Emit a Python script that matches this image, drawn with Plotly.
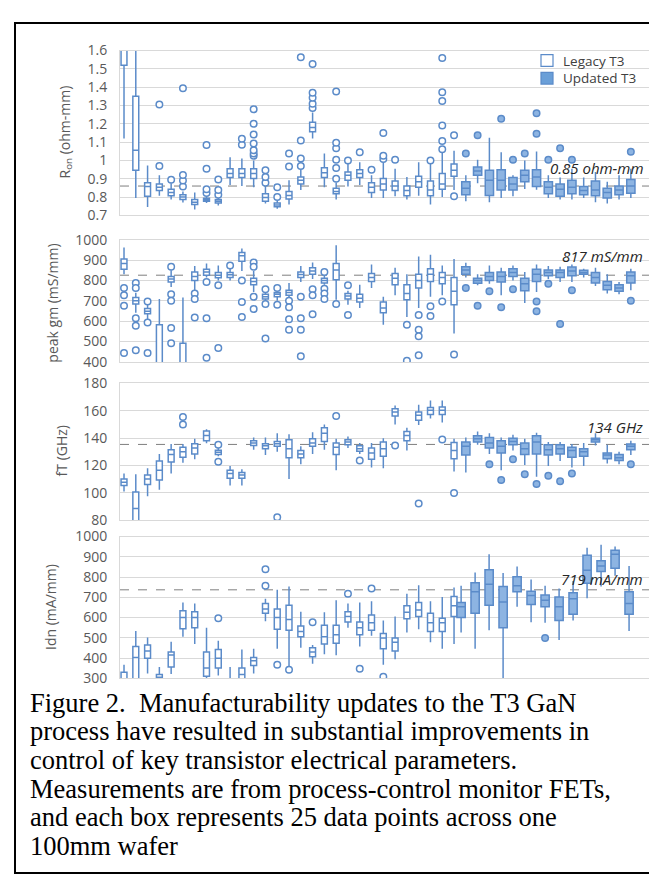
import numpy as np
import plotly.graph_objects as go

W, H = 657, 877
LINE = '#5B8BC9'
FILL = '#8DB4E2'
GRID = '#D9D9D9'
TICK = '#595959'

# ---------------- data (wafer index 1..29 legacy, 30.. updated) ----------------
n_legacy = 29

# Ron (ohm-mm)
ron_q1 = [1.52, 0.946, 0.804, 0.836, 0.807, 0.786, 0.759, 0.777, 0.768, 0.907, 0.907, 0.901, 0.777, 0.747, 0.789,
          0.871, 1.156, 0.907, 0.818, 0.892, 0.907, 0.825, 0.839, 0.836, 0.807, 0.853, 0.807, 0.843, 0.914,
          0.812, 0.919, 0.809, 0.839, 0.839, 0.884, 0.857, 0.818, 0.804, 0.818, 0.812, 0.807, 0.795, 0.812, 0.821]
ron_med = [1.75, 1.056, 0.857, 0.853, 0.825, 0.800, 0.772, 0.785, 0.777, 0.928, 0.928, 0.928, 0.798, 0.757, 0.809,
           0.892, 1.180, 0.932, 0.830, 0.919, 0.928, 0.853, 0.871, 0.860, 0.836, 0.884, 0.839, 0.871, 0.946,
           0.848, 0.942, 0.892, 0.892, 0.871, 0.919, 0.910, 0.853, 0.843, 0.853, 0.836, 0.839, 0.825, 0.839, 0.860]
ron_q3 = [1.90, 1.351, 0.878, 0.871, 0.843, 0.812, 0.786, 0.793, 0.786, 0.955, 0.955, 0.955, 0.818, 0.768, 0.830,
          0.910, 1.209, 0.960, 0.848, 0.937, 0.949, 0.878, 0.901, 0.887, 0.860, 0.914, 0.887, 0.928, 0.981,
          0.884, 0.964, 0.946, 0.949, 0.907, 0.946, 0.949, 0.884, 0.871, 0.892, 0.857, 0.887, 0.848, 0.860, 0.896]
ron_lo = [1.12, 0.795, 0.745, 0.807, 0.786, 0.770, 0.732, 0.768, 0.754, 0.866, 0.860, 0.853, 0.764, 0.736, 0.759,
          0.839, 1.120, 0.853, 0.786, 0.857, 0.866, 0.795, 0.795, 0.804, 0.786, 0.807, 0.759, 0.800, 0.839,
          0.777, 0.875, 0.771, 0.795, 0.804, 0.844, 0.840, 0.795, 0.786, 0.786, 0.795, 0.771, 0.764, 0.786, 0.795]
ron_hi = [2.10, 1.75, 0.972, 0.919, 0.875, 0.830, 0.825, 0.804, 0.795, 1.017, 1.010, 1.000, 0.860, 0.780, 0.892,
          0.950, 1.262, 1.038, 0.880, 0.980, 0.990, 0.919, 0.990, 0.955, 0.910, 0.990, 0.980, 1.040, 1.053,
          0.919, 1.003, 1.124, 1.044, 0.919, 0.999, 1.049, 0.919, 0.907, 0.955, 0.907, 0.937, 0.884, 0.919, 0.955]
ron_out_x = [4, 4, 5, 6, 6, 6, 6, 8, 8, 8, 8, 9, 9, 9, 11, 11,
             12, 12, 12, 12, 12, 12, 12, 13, 13, 13, 14, 14, 15, 15, 16, 16, 16, 16,
             17, 17, 17, 17, 17, 19, 19, 19, 19, 19, 19, 20, 21, 22, 23, 23, 23, 24, 27,
             28, 28, 28, 28, 28, 28, 29, 29,
             30, 31, 33, 34, 35, 36, 36, 37, 38, 39, 44]
ron_out_y = [0.969, 1.305, 0.895, 0.858, 0.890, 0.921, 1.394, 0.822, 0.843, 0.955, 1.084, 0.812, 0.839, 0.896, 1.086, 1.118,
             1.026, 1.038, 1.056, 1.092, 1.141, 1.200, 1.280, 0.878, 0.910, 0.946, 0.800, 0.853, 0.967, 1.038, 0.970, 1.010, 1.109, 1.563,
             1.287, 1.310, 1.342, 1.369, 1.527, 0.900, 0.958, 1.003, 1.067, 1.097, 1.376, 0.999, 1.044, 0.949, 1.008, 1.026, 1.150, 1.003, 1.000,
             1.061, 1.106, 1.191, 1.324, 1.372, 1.559, 0.804, 1.138,
             1.038, 1.138, 1.227, 1.004, 1.038, 1.145, 1.257, 1.004, 1.067, 1.004, 1.047]

# peak gm (mS/mm)
gm_q1 = [855, 684, 637, 330, 792, 330, 800, 826, 814, 815, 894, 779, 709, 720, 728, 815, 831, 788, 804, 709, 694,
         795, 642, 779, 705, 763, 795, 784, 681,
         831, 787, 800, 792, 820, 749, 795, 823, 815, 823, 831, 788, 755, 747, 788]
gm_med = [883, 700, 649, 380, 807, 380, 820, 842, 826, 828, 921, 795, 720, 732, 741, 829, 847, 800, 852, 724, 713,
          815, 665, 811, 736, 800, 831, 815, 747,
          852, 800, 820, 820, 839, 784, 831, 839, 839, 847, 839, 815, 776, 763, 823]
gm_q3 = [905, 716, 662, 583, 820, 492, 842, 855, 839, 839, 937, 811, 732, 741, 752, 842, 863, 811, 883, 736, 732,
         834, 694, 834, 779, 831, 858, 839, 815,
         868, 811, 839, 842, 858, 811, 855, 852, 852, 866, 850, 839, 795, 779, 842]
gm_lo = [831, 642, 610, 250, 768, 250, 752, 815, 800, 800, 847, 744, 697, 700, 709, 792, 807, 779, 705, 681, 665,
         763, 583, 728, 621, 665, 720, 728, 539,
         815, 776, 784, 728, 800, 689, 744, 807, 792, 792, 815, 773, 736, 732, 752]
gm_hi = [962, 740, 685, 709, 850, 716, 871, 883, 874, 858, 957, 847, 760, 750, 788, 871, 889, 825, 973, 750, 779,
         878, 720, 863, 831, 918, 926, 874, 905,
         887, 831, 874, 863, 874, 842, 878, 871, 867, 878, 858, 863, 831, 792, 858]
gm_out_x = [1, 1, 1, 1, 2, 2, 2, 2, 2, 3, 3, 3, 5, 5, 5, 5, 5, 7, 7, 7, 8, 8, 8, 9, 9, 10,
            11, 11, 11, 12, 12, 12, 12, 13, 13, 13, 14, 14, 15, 15, 15, 15, 16, 16, 16, 16,
            17, 17, 17, 18, 18, 18, 18, 19, 20, 20, 25, 25, 26, 26, 26, 26, 27, 27, 28, 29,
            30, 31, 32, 33, 34, 36, 36, 37, 38, 39, 44]
gm_out_y = [763, 728, 676, 444, 788, 763, 615, 578, 457, 697, 594, 444, 867, 732, 700, 567, 492, 736, 709, 618, 792, 615, 420, 776, 468, 874,
            800, 694, 621, 889, 867, 720, 660, 757, 684, 515, 763, 681, 700, 668, 610, 558, 720, 615, 558, 428,
            757, 728, 634, 842, 760, 736, 709, 684, 776, 631, 583, 405, 631, 558, 526, 432, 673, 626, 697, 436,
            763, 676, 747, 668, 757, 697, 649, 784, 586, 752, 700]

# fT (GHz)
ft_q1 = [105.3, 78, 106, 109.3, 122.4, 126, 128.4, 138, 127.9, 110.7, 110.7, 134.6, 132.2, 133.9, 125.6, 125.6, 133.9,
         137.5, 127.9, 135.1, 130.3, 124.4, 126.7, 156.1, 138, 153, 157.1, 157.1, 124.8,
         127.5, 137, 132.7, 129.1, 135.1, 127.9, 128.4, 127.5, 128.4, 126, 126.7, 137, 124.8, 123.6, 131.5]
ft_med = [107.6, 88.5, 110, 116.5, 127.9, 129.9, 132.7, 141.8, 129.6, 114.1, 112.9, 136.3, 134.4, 135.8, 132.2, 128.4, 136.3,
          143.5, 133.2, 137, 132.2, 129.1, 132.2, 159, 141.8, 156.6, 160.2, 160.2, 130.8,
          133.9, 139.4, 136.3, 133.9, 137.5, 132.2, 137, 131.5, 132.2, 130.8, 129.9, 138.7, 127.5, 125.6, 133.9]
ft_q3 = [110, 100.5, 112.9, 123.2, 131.5, 133.2, 135.8, 145.1, 131, 116.5, 114.8, 138, 135.8, 137.5, 138.7, 130.8, 139.4,
         147.5, 136.3, 138.7, 134.4, 132.7, 137, 161.4, 144.7, 159, 162.3, 162.6, 136.8,
         137, 141.6, 140.4, 138, 139.9, 136.3, 141.6, 135.1, 135.1, 133.2, 132.2, 139.9, 129.1, 127.9, 135.6]
ft_lo = [101, 70, 97.4, 102.2, 114.1, 122, 124.4, 136.1, 126.7, 105.3, 105.3, 131.5, 127.5, 129.9, 110, 120.8, 128.4,
         131.5, 116.5, 132.7, 128.4, 118.4, 117.9, 149.9, 130.8, 149.4, 154.2, 151.3, 115.5,
         114.8, 135.1, 128.4, 116.5, 130.8, 120.3, 111.7, 119.6, 123.2, 118.4, 119.6, 134.6, 121.3, 120.8, 127.5]
ft_hi = [114.1, 113.6, 117.9, 128.4, 135.6, 135.6, 139.4, 146.3, 133, 119.6, 117.2, 140.4, 140.4, 143.5, 142.7, 133.9, 144.2,
         149.9, 139.4, 141.1, 136.3, 136.3, 139.9, 163.8, 147.5, 164.2, 167.3, 167.3, 139.4,
         140.4, 144.7, 143.5, 140.4, 142.3, 139.4, 143.9, 137, 137, 135.6, 136.3, 143.5, 135.1, 129.9, 138]
ft_out_x = [6, 6, 9, 9, 14, 19, 21, 24, 26, 28, 29,
            32, 33, 34, 35, 36, 37, 38, 39, 44]
ft_out_y = [155.4, 149.9, 135.1, 122.7, 82.1, 156.1, 123.6, 134.6, 92.1, 138.9, 99.8,
            120.8, 109.3, 124.4, 113.6, 106.4, 112.4, 108.4, 114.1, 120.8]

# Idn (mA/mm): 29 legacy + 13 updated wafers
idn_q1 = [270, 290, 399, 280, 356, 545, 550, 311, 351, 250, 295, 364, 621, 542, 537, 505, 407, 470, 473, 578, 515,
          537, 446, 435, 594, 605, 531, 531, 605,
          601, 621, 661, 550, 728, 664, 653, 585, 616, 769, 828, 844, 616]
idn_med = [290, 403, 435, 305, 415, 601, 601, 351, 399, 270, 319, 387, 642, 601, 590, 531, 430, 505, 515, 605, 550,
           574, 499, 478, 626, 637, 574, 574, 658,
           653, 728, 765, 677, 757, 709, 685, 653, 693, 833, 855, 912, 669]
idn_q3 = [330, 457, 465, 319, 430, 634, 629, 430, 442, 290, 351, 403, 669, 642, 661, 558, 451, 562, 562, 629, 578,
          613, 521, 499, 658, 674, 621, 597, 704,
          674, 772, 836, 753, 801, 730, 712, 701, 722, 907, 880, 932, 728]
idn_lo = [240, 250, 324, 260, 322, 505, 470, 295, 314, 230, 270, 324, 582, 446, 346, 451, 372, 419, 414, 550, 457,
          510, 367, 395, 526, 542, 478, 446, 470,
          526, 446, 537, 290, 653, 577, 574, 489, 585, 696, 753, 807, 534]
idn_hi = [367, 534, 502, 356, 481, 674, 669, 550, 486, 356, 442, 446, 693, 737, 753, 629, 465, 626, 685, 669, 674,
          680, 585, 605, 717, 760, 680, 701, 749,
          757, 823, 912, 820, 852, 788, 757, 744, 780, 944, 960, 951, 855]
idn_out_x = [9, 13, 13, 14, 15, 17, 20, 21, 22, 23]
idn_out_y = [597, 757, 839, 367, 343, 577, 717, 348, 744, 308]
idn_upd_out_i = [36]
idn_upd_out_y = [499]

# reference lines and their labels
ref_vals = [0.86, 826, 135.3, 737]
ref_labels = ['0.85 ohm-mm', '817 mS/mm', '134 GHz', '719 mA/mm']
y_titles = ['R<sub>on</sub> (ohm-mm)', 'peak gm (mS/mm)', 'fT (GHz)', 'Idn (mA/mm)']
y_ranges = [[0.7, 1.6], [400, 1000], [80, 180], [300, 1000]]
y_dticks = [0.1, 100, 20, 100]

caption = ['Figure 2.\u00a0 Manufacturability updates to the T3 GaN',
           'process have resulted in substantial improvements in',
           'control of key transistor electrical parameters.',
           'Measurements are from process-control monitor FETs,',
           'and each box represents 25 data points across one',
           '100mm wafer']

# ---------------- layout geometry (pixels) ----------------
def fx(px):
    return px / W

def fy(py):
    return 1 - py / H

panel_px = [(33.3, 201.7), (226.7, 351.5), (373.3, 513.3), (530, 675)]
title_px = [(57, 117), (45, 292), (53, 443), (43, 602)]
label_py = [153, 243, 418, 573]
x_dom = [fx(112), fx(641.7)]
x_range = [0.66, 45.6]

legacy_pos = list(range(1, n_legacy + 1))
upd_pos_44 = list(range(n_legacy + 1, 45))
idn_upd_pos = list(np.linspace(29.6, 43.85, 13))

panels = [
    (ron_q1, ron_med, ron_q3, ron_lo, ron_hi, upd_pos_44, ron_out_x, ron_out_y),
    (gm_q1, gm_med, gm_q3, gm_lo, gm_hi, upd_pos_44, gm_out_x, gm_out_y),
    (ft_q1, ft_med, ft_q3, ft_lo, ft_hi, upd_pos_44, ft_out_x, ft_out_y),
    (idn_q1, idn_med, idn_q3, idn_lo, idn_hi, idn_upd_pos, idn_out_x, idn_out_y),
]

fig = go.Figure()
layout = dict(width=W, height=H, margin=dict(l=0, r=0, t=0, b=0),
              paper_bgcolor='white', plot_bgcolor='white', showlegend=False,
              boxmode='overlay', shapes=[], annotations=[])

for i, (q1, med, q3, lo, hi, upd_pos, ox, oy) in enumerate(panels):
    n = '' if i == 0 else str(i + 1)
    xa, ya = 'x' + n, 'y' + n
    nl = n_legacy
    # legacy boxes
    fig.add_trace(go.Box(x=legacy_pos, q1=q1[:nl], median=med[:nl], q3=q3[:nl],
                         lowerfence=lo[:nl], upperfence=hi[:nl], width=0.5,
                         fillcolor='white', line=dict(color=LINE, width=1.5),
                         whiskerwidth=0, boxpoints=False, hoverinfo='skip',
                         xaxis=xa, yaxis=ya))
    # updated boxes
    fig.add_trace(go.Box(x=upd_pos, q1=q1[nl:], median=med[nl:], q3=q3[nl:],
                         lowerfence=lo[nl:], upperfence=hi[nl:], width=0.7,
                         fillcolor=FILL, line=dict(color=LINE, width=1.5),
                         whiskerwidth=0, boxpoints=False, hoverinfo='skip',
                         xaxis=xa, yaxis=ya))
    # outliers
    if i < 3:
        lx = [a for a in ox if a <= nl]
        ly = [b for a, b in zip(ox, oy) if a <= nl]
        ux = [a for a in ox if a > nl]
        uy = [b for a, b in zip(ox, oy) if a > nl]
    else:
        lx, ly = ox, oy
        ux = [upd_pos[k - 30] for k in idn_upd_out_i]
        uy = idn_upd_out_y
    fig.add_trace(go.Scatter(x=lx, y=ly, mode='markers', hoverinfo='skip',
                             marker=dict(symbol='circle', size=6.5, color='white',
                                         line=dict(color=LINE, width=1.5)),
                             xaxis=xa, yaxis=ya))
    fig.add_trace(go.Scatter(x=ux, y=uy, mode='markers', hoverinfo='skip',
                             marker=dict(symbol='circle', size=6.5, color=FILL,
                                         line=dict(color=LINE, width=1.5)),
                             xaxis=xa, yaxis=ya))

    top, bot = panel_px[i]
    layout['xaxis' + n] = dict(domain=x_dom, range=x_range, anchor=ya,
                               showticklabels=False, ticks='', showgrid=False,
                               zeroline=False, showline=True, mirror=True,
                               linecolor=GRID, linewidth=1, fixedrange=True)
    layout['yaxis' + n] = dict(domain=[fy(bot), fy(top)], range=y_ranges[i], anchor=xa,
                               dtick=y_dticks[i], tick0=y_ranges[i][0],
                               showgrid=True, gridcolor=GRID, gridwidth=1,
                               zeroline=False, showline=True, mirror=True,
                               linecolor=GRID, linewidth=1, ticks='',
                               ticklabelstandoff=9,
                               tickfont=dict(family='Open Sans', size=14, color=TICK),
                               fixedrange=True)
    layout['shapes'].append(dict(type='line', xref=xa + ' domain', yref=ya,
                                 x0=0, x1=1, y0=ref_vals[i], y1=ref_vals[i], layer='below',
                                 line=dict(color='#7F7F7F', width=1, dash='dash')))
    layout['annotations'].append(dict(xref='paper', yref='paper', x=fx(637), y=fy(label_py[i]),
                                      xanchor='right', yanchor='middle', showarrow=False,
                                      text='<i>' + ref_labels[i] + '</i>',
                                      font=dict(family='Open Sans', size=15, color='#262626')))
    tx, ty = title_px[i]
    layout['annotations'].append(dict(xref='paper', yref='paper', x=fx(tx), y=fy(ty),
                                      xanchor='center', yanchor='middle', textangle=-90,
                                      showarrow=False, text=y_titles[i],
                                      font=dict(family='Open Sans', size=14, color=TICK)))

# legend (drawn manually)
for k, (name, fc) in enumerate([('Legacy T3', 'white'), ('Updated T3', '#6A9FD8')]):
    yc = 43.5 + 18 * k
    layout['shapes'].append(dict(type='rect', xref='paper', yref='paper',
                                 x0=fx(533), x1=fx(545), y0=fy(yc + 6), y1=fy(yc - 6),
                                 fillcolor=fc, line=dict(color=LINE, width=1.2)))
    layout['annotations'].append(dict(xref='paper', yref='paper', x=fx(553), y=fy(yc),
                                      xanchor='left', yanchor='middle', showarrow=False,
                                      text=name, font=dict(family='Open Sans', size=13.5, color='#404040')))

# caption
for k, line in enumerate(caption):
    layout['annotations'].append(dict(xref='paper', yref='paper', x=fx(20), y=fy(700 + 29.3 * k),
                                      xanchor='left', yanchor='middle', showarrow=False,
                                      text=line, font=dict(family='Liberation Serif', size=26.5, color='black')))

# outer frame
layout['shapes'].append(dict(type='rect', xref='paper', yref='paper',
                             x0=fx(7), x1=fx(654), y0=fy(874), y1=fy(5),
                             line=dict(color='black', width=2)))

fig.update_layout(**layout)
fig.write_html('out.html', config={'displayModeBar': False})
